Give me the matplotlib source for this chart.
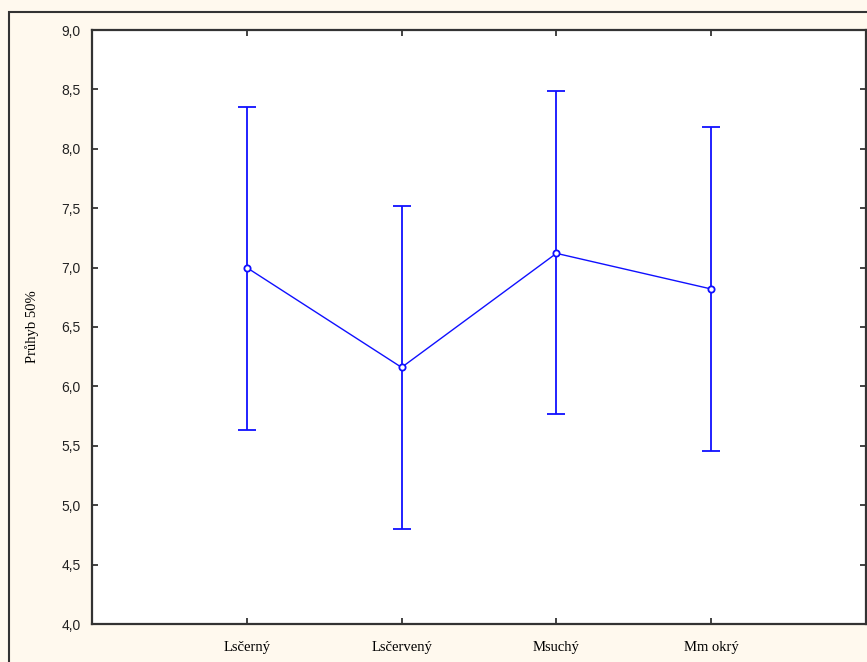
import matplotlib.pyplot as plt
from matplotlib.patches import Rectangle
from matplotlib.ticker import FuncFormatter

categories = ["Lsčerný", "Lsčervený", "Msuchý", "Mm okrý"]
means = [7.00, 6.16, 7.12, 6.82]
lower = [5.63, 4.80, 5.77, 5.46]
upper = [8.35, 7.52, 8.49, 8.18]
y_label = "Průhyb 50%"

BG = "#fff9ee"
BLUE = "#1010ff"


def comma_fmt(value, pos):
    """
    Formats tick values with a decimal comma
    """
    return f"{value:.1f}".replace(".", ",")


def main():
    fig = plt.figure(figsize=(8.67, 6.62), dpi=100, facecolor=BG)
    W, H = 867, 662
    # outer frame of the graph window
    fig.patches.append(Rectangle((9 / W, -0.1), 1.1, (H - 12) / H + 0.1,
                                 transform=fig.transFigure, fill=False,
                                 edgecolor="#333333", linewidth=1.5))
    ax = fig.add_axes([92 / W, (H - 624) / H, (866 - 92) / W, (624 - 30) / H])
    ax.set_facecolor("white")

    x = list(range(len(categories)))
    err_lo = [m - lo for m, lo in zip(means, lower)]
    err_hi = [hi - m for m, hi in zip(means, upper)]
    ax.errorbar(x, means, yerr=[err_lo, err_hi], fmt="none", ecolor=BLUE,
                elinewidth=1.3, capsize=6.5, capthick=1.3)
    ax.plot(x, means, color=BLUE, linewidth=1.0, marker="o", markersize=4.5,
            markerfacecolor="white", markeredgecolor=BLUE, markeredgewidth=1.3)

    ax.set_xlim(-1, 4)
    ax.set_ylim(4.0, 9.0)
    ax.set_xticks(x)
    ax.set_xticklabels(categories, fontfamily="Liberation Serif", fontsize=10.5)
    ax.set_yticks([4.0 + 0.5 * i for i in range(11)])
    ax.yaxis.set_major_formatter(FuncFormatter(comma_fmt))
    for lab in ax.get_yticklabels():
        lab.set_fontfamily("Liberation Sans")
        lab.set_fontsize(10)
        lab.set_color("#222222")
    ax.tick_params(direction="in", length=4, width=1.2, color="#222222",
                   top=True, right=True, pad=8)
    ax.tick_params(axis="x", pad=12)
    for sp in ax.spines.values():
        sp.set_linewidth(1.6)
        sp.set_color("#333333")

    ax.set_ylabel(y_label, fontfamily="Liberation Serif", fontsize=10.5,
                  labelpad=16)

    fig.savefig("out.png", dpi=100, facecolor=BG)


if __name__ == '__main__':
    main()
